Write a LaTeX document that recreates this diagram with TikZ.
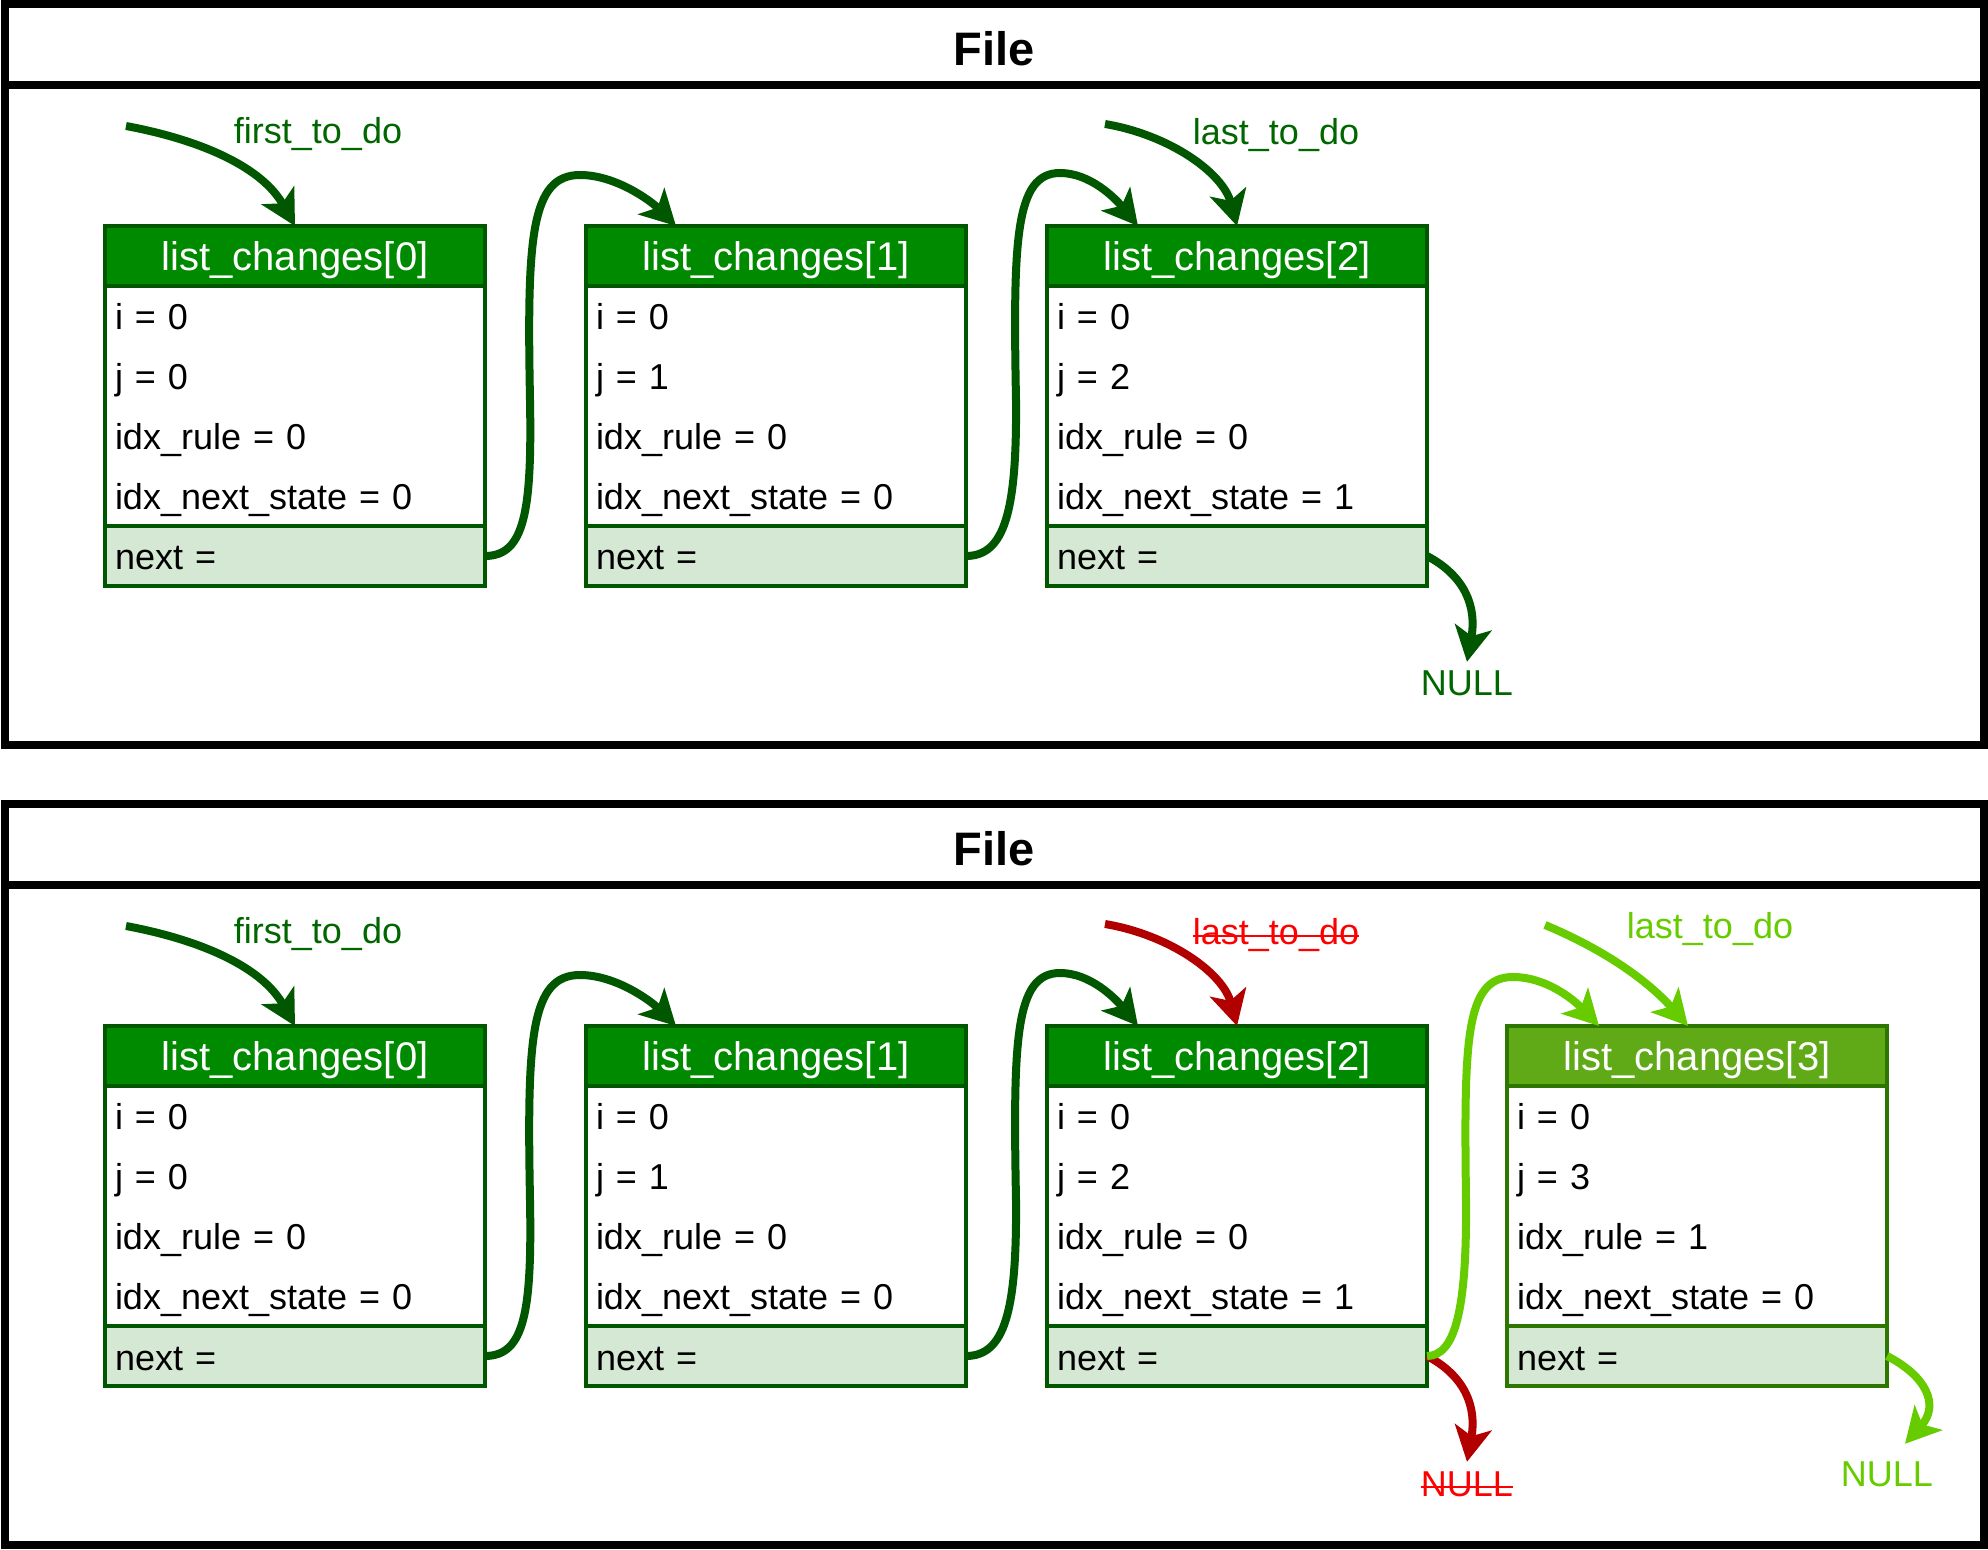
\documentclass[tikz,border=0pt]{standalone}
\usepackage{fontspec}
\setmainfont{Liberation Sans}
\usetikzlibrary{positioning, arrows.meta, calc}

\definecolor{headgreen}{HTML}{008A00}
\definecolor{bordergreen}{HTML}{005700}
\definecolor{nextgreen}{HTML}{D5E8D4}
\definecolor{newheadgreen}{HTML}{60A917}
\definecolor{newborder}{HTML}{2D7600}
\definecolor{lime}{HTML}{66CC00}
\definecolor{textgreen}{HTML}{006600}
\definecolor{darkred}{HTML}{B20000}

\begin{document}
\begin{tikzpicture}[%
		x=0.5pt, y=-0.5pt,
		filehead/.style={
			rectangle,
			draw=black,
			line width=4pt,
			minimum width=989.75pt,
			minimum height=40.25pt,
			inner sep=0pt,
			outer sep=0pt,
			anchor=north west,
			font=\fontsize{23.5pt}{28pt}\selectfont\bfseries,
			text height=20.5pt,
			text depth=0pt
		},
		filebody/.style={
			rectangle,
			draw=black,
			line width=4pt,
			minimum width=989.75pt,
			minimum height=330pt,
			inner sep=0pt,
			outer sep=0pt
		},
		entryhead/.style={
			rectangle,
			draw=bordergreen,
			fill=headgreen,
			line width=2.1pt,
			minimum width=190pt,
			minimum height=30pt,
			inner sep=0pt,
			outer sep=0pt,
			anchor=north west,
			text=white,
			font=\fontsize{20pt}{24pt}\selectfont,
			text height=14.3pt,
			text depth=0pt
		},
		entrybody/.style={
			rectangle,
			draw=bordergreen,
			fill=white,
			line width=2.1pt,
			minimum width=190pt,
			minimum height=120pt,
			text width=180pt,
			inner xsep=5pt,
			inner ysep=0pt,
			outer sep=0pt,
			align=left,
			font=\fontsize{18pt}{30pt}\selectfont,
			text height=14pt,
			text depth=90pt
		},
		entrynext/.style={
			entrybody,
			fill=nextgreen,
			minimum height=30pt,
			text depth=0pt
		},
		newhead/.style={
			draw=newborder,
			fill=newheadgreen
		},
		newbox/.style={
			draw=newborder
		},
		ptrarrow/.style={
			draw=bordergreen,
			line width=4pt,
			-{Stealth[length=17.5pt, width=18.5pt, inset=4.5pt]}
		},
		newarrow/.style={
			ptrarrow,
			draw=lime
		},
		oldarrow/.style={
			ptrarrow,
			draw=darkred
		},
		ptrlabel/.style={
			anchor=base,
			inner sep=0pt,
			text=textgreen,
			font=\fontsize{18pt}{21pt}\selectfont
		},
		nulllabel/.style={
			ptrlabel,
			inner sep=4pt,
			text height=12.9pt,
			text depth=0pt
		},
		strike/.style={
			draw=red,
			line width=1.2pt
		}]

		\useasboundingbox (0,0) rectangle (1988,1550);

		% FILE I

		\node (file-I) [filehead] at (4.5,4.5) {File};
		\node (filebody-I) [filebody, below=0pt of file-I] {};

		\node (C0-I) [entryhead] at (105,226) {list\_changes[0]};
		\node (C0body-I) [entrybody, below=0pt of C0-I] {i = 0\\j = 0\\idx\_rule = 0\\idx\_next\_state = 0};
		\node (C0next-I) [entrynext, below=0pt of C0body-I] {next =};

		\node (C1-I) [entryhead] at (586,226) {list\_changes[1]};
		\node (C1body-I) [entrybody, below=0pt of C1-I] {i = 0\\j = 1\\idx\_rule = 0\\idx\_next\_state = 0};
		\node (C1next-I) [entrynext, below=0pt of C1body-I] {next =};

		\node (C2-I) [entryhead] at (1047,226) {list\_changes[2]};
		\node (C2body-I) [entrybody, below=0pt of C2-I] {i = 0\\j = 2\\idx\_rule = 0\\idx\_next\_state = 1};
		\node (C2next-I) [entrynext, below=0pt of C2body-I] {next =};

		\node (first-I) [ptrlabel] at (318,144) {first\_to\_do};
		\node (last-I) [ptrlabel] at (1276,145) {last\_to\_do};
		\node (null-I) [nulllabel] at (1467,696) {NULL};

		\coordinate (firststart-I) at (126,126);
		\coordinate (laststart-I) at (1105,124);

		% FILE I POINTERS

		\draw[ptrarrow] (firststart-I) .. controls +(75,14) and +(-33,-59) .. (C0-I.north);
		\draw[ptrarrow] (laststart-I) .. controls +(65,11) and +(-14,-53) .. (C2-I.north);
		\draw[ptrarrow] (C0next-I.east) .. controls (525,556) and (532,510) .. (530,400) .. controls (527,240) and (530,175) .. (580,175) .. controls (615,175) and (650,200) .. ($(C1-I.north west)+(90,0)$);
		\draw[ptrarrow] (C1next-I.east) .. controls (1005,556) and (1017,510) .. (1016,400) .. controls (1013,240) and (1015,173) .. (1060,173) .. controls (1090,173) and (1115,198) .. ($(C2-I.north west)+(91,0)$);
		\draw[ptrarrow] (C2next-I.east) .. controls +(38,20) and +(10,-55) .. (null-I.north);

		% FILE II

		\node (file-II) [filehead] at (4.5,804.5) {File};
		\node (filebody-II) [filebody, below=0pt of file-II] {};

		\node (C0-II) [entryhead] at (105,1026) {list\_changes[0]};
		\node (C0body-II) [entrybody, below=0pt of C0-II] {i = 0\\j = 0\\idx\_rule = 0\\idx\_next\_state = 0};
		\node (C0next-II) [entrynext, below=0pt of C0body-II] {next =};

		\node (C1-II) [entryhead] at (586,1026) {list\_changes[1]};
		\node (C1body-II) [entrybody, below=0pt of C1-II] {i = 0\\j = 1\\idx\_rule = 0\\idx\_next\_state = 0};
		\node (C1next-II) [entrynext, below=0pt of C1body-II] {next =};

		\node (C2-II) [entryhead] at (1047,1026) {list\_changes[2]};
		\node (C2body-II) [entrybody, below=0pt of C2-II] {i = 0\\j = 2\\idx\_rule = 0\\idx\_next\_state = 1};
		\node (C2next-II) [entrynext, below=0pt of C2body-II] {next =};

		\node (C3-II) [entryhead, newhead] at (1507,1026) {list\_changes[3]};
		\node (C3body-II) [entrybody, newbox, below=0pt of C3-II] {i = 0\\j = 3\\idx\_rule = 1\\idx\_next\_state = 0};
		\node (C3next-II) [entrynext, newbox, below=0pt of C3body-II] {next =};

		\node (first-II) [ptrlabel] at (318,944) {first\_to\_do};
		\node (oldlast-II) [ptrlabel, text=red] at (1276,945) {last\_to\_do};
		\node (newlast-II) [ptrlabel, text=lime] at (1710,939) {last\_to\_do};
		\node (oldnull-II) [nulllabel, text=red] at (1467,1496) {NULL};
		\node (newnull-II) [nulllabel, text=lime] at (1887,1486) {NULL};

		\draw[strike] ($(oldlast-II.base west)+(0,-9)$) -- ($(oldlast-II.base east)+(0,-9)$);
		\draw[strike] ($(oldnull-II.base west)+(8,-9)$) -- ($(oldnull-II.base east)+(-8,-9)$);

		\coordinate (firststart-II) at (126,926);
		\coordinate (oldlaststart-II) at (1105,924);
		\coordinate (newlaststart-II) at (1545,925);

		% FILE II POINTERS

		\draw[ptrarrow] (firststart-II) .. controls +(75,14) and +(-33,-59) .. (C0-II.north);
		\draw[oldarrow] (oldlaststart-II) .. controls +(65,11) and +(-14,-53) .. (C2-II.north);
		\draw[newarrow] (newlaststart-II) .. controls +(60,25) and +(-40,-45) .. ($(C3-II.north)+(-9,0)$);
		\draw[ptrarrow] (C0next-II.east) .. controls (525,1356) and (532,1310) .. (530,1200) .. controls (527,1040) and (530,975) .. (580,975) .. controls (615,975) and (650,1000) .. ($(C1-II.north west)+(90,0)$);
		\draw[ptrarrow] (C1next-II.east) .. controls (1005,1356) and (1017,1310) .. (1016,1200) .. controls (1013,1040) and (1015,973) .. (1060,973) .. controls (1090,973) and (1115,998) .. ($(C2-II.north west)+(91,0)$);
		\draw[oldarrow] (C2next-II.east) .. controls +(38,20) and +(10,-55) .. (oldnull-II.north);
		\draw[newarrow] (C2next-II.east) .. controls (1455,1356) and (1467,1310) .. (1466,1200) .. controls (1464,1040) and (1465,977) .. (1513,977) .. controls (1545,977) and (1572,998) .. ($(C3-II.north west)+(92,0)$);
		\draw[newarrow] (C3next-II.east) .. controls +(39,20) and +(35,-39) .. ($(newnull-II.north)+(18,-8)$);
\end{tikzpicture}
\end{document}
